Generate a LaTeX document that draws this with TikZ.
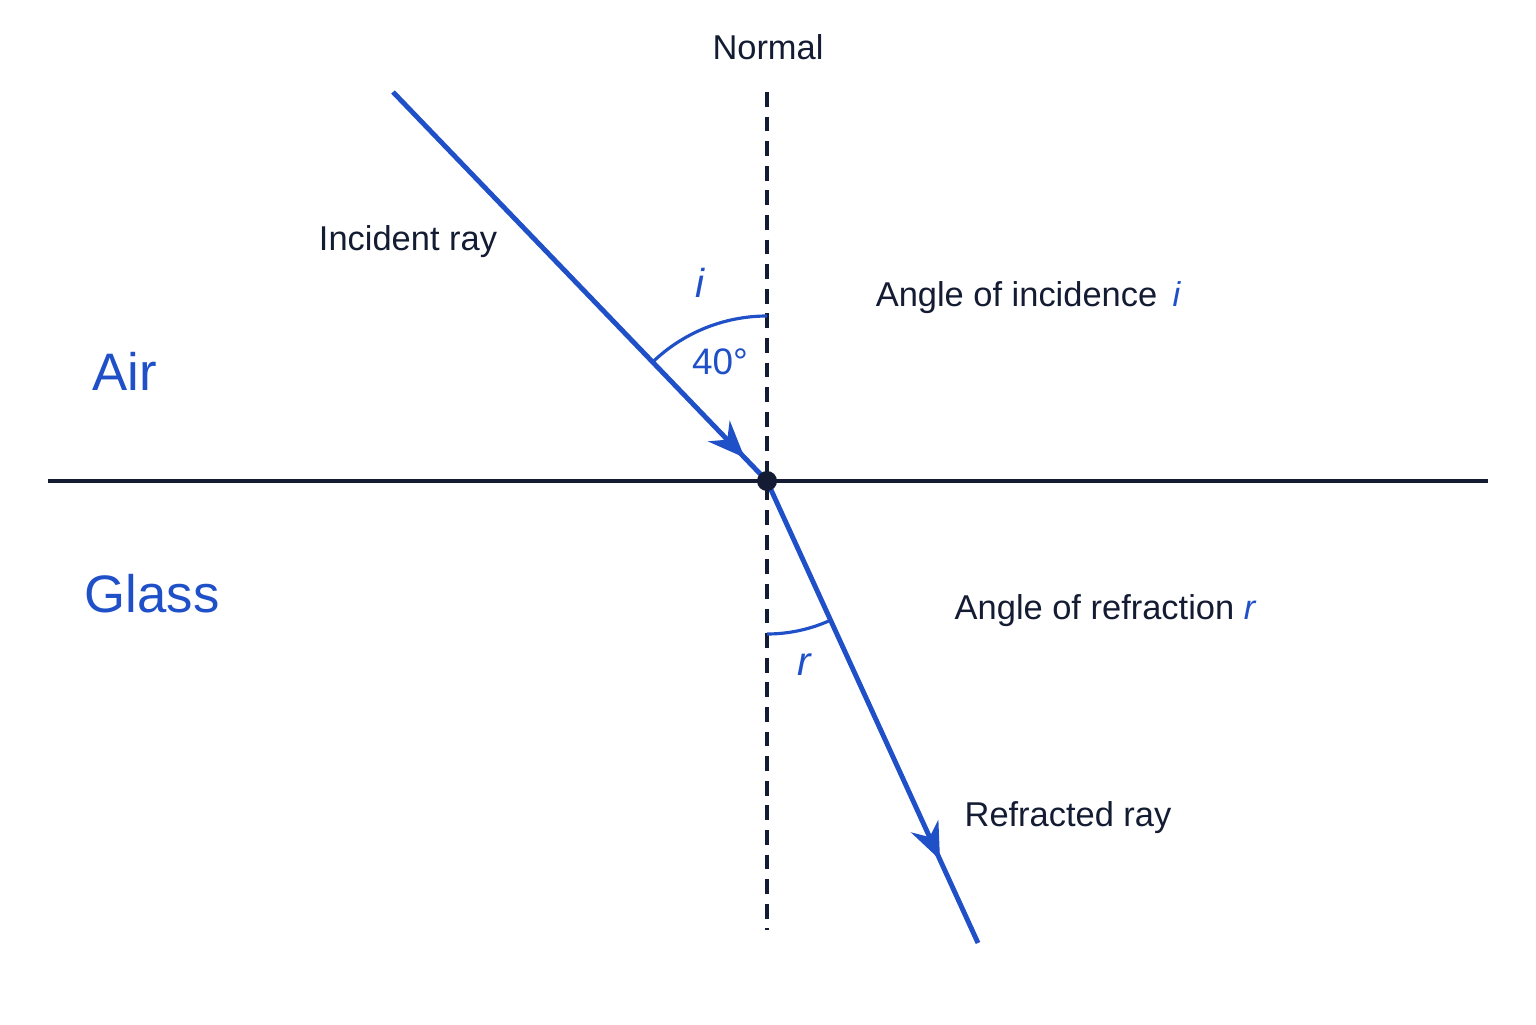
\documentclass[tikz,border=0pt]{standalone}
\usepackage{fontspec}
\setmainfont{Liberation Sans}
\usetikzlibrary{arrows.meta,decorations.markings}
\definecolor{raycol}{HTML}{1F50C8}
\definecolor{inkcol}{HTML}{141C33}
\tikzset{
  ray/.style={raycol,line width=1.4pt},
  midarrow/.style={postaction={decorate},decoration={markings,
    mark=at position #1 with {\arrow{Stealth[length=10.5pt,width=8.5pt]}}}},
  lbl/.style={inkcol,font=\fontsize{9.8}{12}\selectfont},
  medium/.style={raycol,font=\fontsize{15}{18}\selectfont},
  angl/.style={raycol,font=\fontsize{11.5}{13}\selectfont\itshape},
}
\begin{document}
\begin{tikzpicture}
\useasboundingbox (0,0) rectangle (15.36,10.24);
\coordinate (O) at (7.67,5.43);
\coordinate (left) at (0.48,5.43);
\coordinate (right) at (14.88,5.43);
\coordinate (ntop) at (7.67,9.32);
\coordinate (nbot) at (7.67,0.94);
\coordinate (src) at (3.93,9.32);
\coordinate (dst) at (9.78,0.81);
% surface and normal
\draw[inkcol,line width=1pt] (left) -- (right) ;
\draw[inkcol,line width=0.9pt,dash pattern=on 4.2pt off 2.8pt] (ntop) -- (nbot) ;
% rays
\draw[ray,midarrow=0.94] (src) -- (O) ;
\draw[ray,midarrow=0.82] (O) -- (dst) ;
% angles
\draw[raycol,line width=0.9pt] ([shift={(90:1.65)}]O) arc (90:133.9:1.65) ;
\draw[raycol,line width=0.9pt] ([shift={(270:1.53)}]O) arc (270:294.5:1.53) ;
\fill[inkcol] (O) circle (0.1) ;
% labels
\node[lbl] (normal) at (7.68,9.77) {Normal};
\node[lbl] (inc) at (4.08,7.82) {Incident ray};
\node[angl] (ilbl) at (7.00,7.41) {i};
\node[raycol,font=\fontsize{10.5}{12}\selectfont] (deg) at (7.20,6.62) {40°};
\node[lbl] (aoi) at (10.28,7.26) {Angle of incidence \,{\color{raycol}\itshape i}};
\node[medium] (air) at (1.25,6.53) {Air};
\node[medium] (glass) at (1.52,4.30) {Glass};
\node[lbl] (aor) at (11.05,4.13) {Angle of refraction {\color{raycol}\itshape r}};
\node[angl] (rlbl) at (8.04,3.59) {r};
\node[lbl] (refr) at (10.68,2.06) {Refracted ray};
\end{tikzpicture}
\end{document}
